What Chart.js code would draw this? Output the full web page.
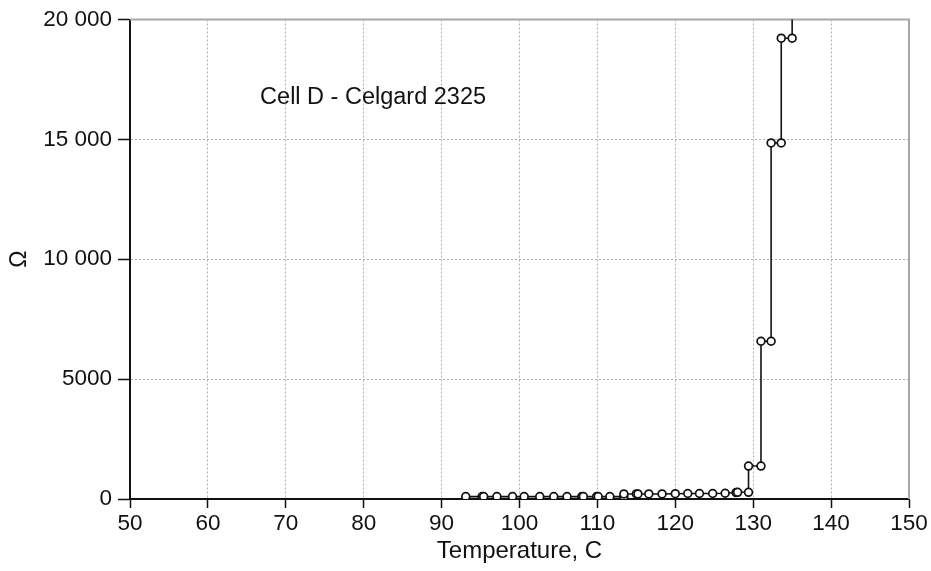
<!DOCTYPE html>
<html>
<head>
<meta charset="utf-8">
<script src="https://cdn.jsdelivr.net/npm/chart.js@4"></script>
<style>
  html, body { margin:0; padding:0; background:#fff; }
  #wrap { width:931px; height:571px; }
</style>
</head>
<body>
<div id="wrap"><canvas id="chart" width="931" height="571"></canvas></div>
<script>
// temperature (C) and resistance (ohm)
const temps = [93.1, 95.2, 95.4, 97.1, 99.1, 100.6, 102.6, 104.4, 106.1, 108.0, 108.2, 109.9, 110.1, 111.6,
  113.4, 113.4, 115.0, 115.2, 116.6, 118.3, 120.0, 121.6, 123.1, 124.8, 126.4, 127.8, 128.0, 129.4,
  129.4, 131.0, 131.0, 132.3, 132.3, 133.6, 133.6, 135.0, 135.0];
const ohms = [100, 100, 100, 100, 100, 100, 100, 100, 100, 100, 100, 100, 100, 100,
  100, 210, 210, 210, 210, 210, 220, 230, 230, 230, 240, 270, 280, 280,
  1375, 1375, 6580, 6580, 14850, 14850, 19220, 19220, 23000];

const xTicks = [50, 60, 70, 80, 90, 100, 110, 120, 130, 140, 150];
const yTicks = [0, 5000, 10000, 15000, 20000];
const xTitle = "Temperature, C";
const yTitle = "Ω";
const note = "Cell D - Celgard 2325";

const font = "'Liberation Sans', Arial, sans-serif";

// top + right frame and the label inside the plot
const extras = {
  id: 'extras',
  beforeDatasetsDraw(chart) {
    const {ctx, chartArea: a, scales} = chart;
    ctx.save();
    ctx.strokeStyle = '#a8a8a8';
    ctx.lineWidth = 2;
    ctx.beginPath();
    ctx.moveTo(a.left, a.top);
    ctx.lineTo(a.right, a.top);
    ctx.lineTo(a.right, a.bottom);
    ctx.stroke();
    ctx.fillStyle = '#111';
    ctx.font = "23.5px " + font;
    ctx.textBaseline = 'middle';
    ctx.fillText(note, scales.x.getPixelForValue(66.7), scales.y.getPixelForValue(16750));
    ctx.restore();
  }
};

new Chart(document.getElementById('chart'), {
  type: 'scatter',
  data: {
    datasets: [{
      data: temps.map((t, i) => ({x: t, y: ohms[i]})),
      showLine: true,
      borderColor: '#111',
      borderWidth: 1.6,
      pointRadius: 3.9,
      pointBorderWidth: 1.7,
      pointBackgroundColor: '#fff',
      pointBorderColor: '#111',
      tension: 0
    }]
  },
  options: {
    responsive: false,
    animation: false,
    layout: {padding: {left: 0, right: 22, top: 18, bottom: 0}},
    plugins: {legend: {display: false}, tooltip: {enabled: false}},
    scales: {
      x: {
        type: 'linear', min: 50, max: 150,
        afterBuildTicks: s => { s.ticks = xTicks.map(v => ({value: v})); },
        afterFit: s => { s.height = 72; },
        ticks: {color: '#111', font: {size: 22.5, family: font}, padding: 2, maxRotation: 0},
        grid: {color: '#b0b0b0', tickColor: '#111', tickLength: 9, tickBorderDash: [1, 0], tickWidth: 1.5},
        border: {color: '#111', width: 2, dash: [2, 2]},
        title: {display: true, text: xTitle, color: '#111', font: {size: 24, family: font}, padding: {top: 0, bottom: 5}}
      },
      y: {
        type: 'linear', min: 0, max: 20000,
        afterBuildTicks: s => { s.ticks = yTicks.map(v => ({value: v})); },
        afterFit: s => { s.width = 130; },
        ticks: {
          color: '#111', font: {size: 22.5, family: font}, padding: 6,
          callback: v => v >= 10000 ? String(v).replace(/(\d+)(\d{3})$/, '$1 $2') : String(v)
        },
        grid: {color: '#b0b0b0', tickColor: '#111', tickLength: 12, tickBorderDash: [1, 0], tickWidth: 1.5},
        border: {color: '#111', width: 2, dash: [2, 2]},
        title: {display: true, text: yTitle, color: '#111', font: {size: 23, family: font}, padding: {top: 6, bottom: 0}}
      }
    }
  },
  plugins: [extras]
});
</script>
</body>
</html>
